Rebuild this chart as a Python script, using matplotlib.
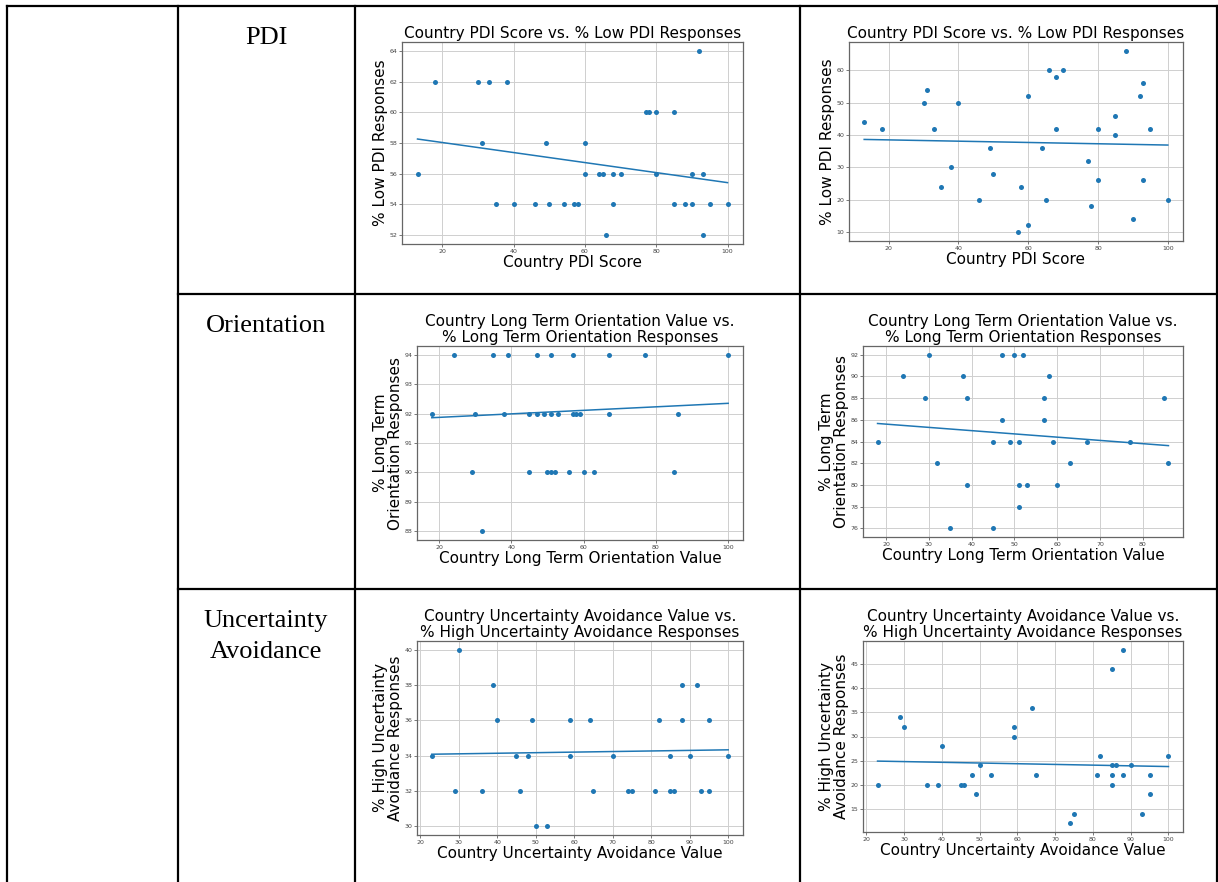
import numpy as np
import matplotlib
matplotlib.use("Agg")
import matplotlib.pyplot as plt
from matplotlib.lines import Line2D
from matplotlib.ticker import MultipleLocator

W, H = 1218, 882
BLUE = "#1f77b4"

# ---- data ----
pdi_x1 = [13, 18, 30, 33, 38, 31, 35, 40, 46, 49, 50, 54, 57, 58, 60, 60, 64, 65, 66, 68,
          68, 70, 77, 78, 80, 80, 85, 85, 88, 90, 90, 92, 93, 93, 95, 100]
pdi_y1 = [56, 62, 62, 62, 62, 58, 54, 54, 54, 58, 54, 54, 54, 54, 58, 56, 56, 56, 52, 56,
          54, 56, 60, 60, 60, 56, 60, 54, 54, 56, 54, 64, 56, 52, 54, 54]

pdi_x2 = [13, 18, 30, 31, 33, 35, 38, 40, 46, 49, 50, 57, 58, 60, 60, 64, 65, 66, 68, 68,
          70, 77, 78, 80, 80, 85, 85, 88, 90, 92, 93, 93, 95, 100]
pdi_y2 = [44, 42, 50, 54, 42, 24, 30, 50, 20, 36, 28, 10, 24, 52, 12, 36, 20, 60, 58, 42,
          60, 32, 18, 42, 26, 46, 40, 66, 14, 52, 56, 26, 42, 20]

lto_x1 = [24, 35, 39, 47, 51, 57, 67, 77, 100,
          18, 30, 38, 45, 47, 49, 51, 53, 57, 58, 59, 67, 86,
          29, 45, 50, 51, 52, 56, 60, 63, 85,
          32]
lto_y1 = [94] * 9 + [92] * 13 + [90] * 9 + [88]

lto_x2 = [18, 24, 29, 30, 32, 35, 38, 39, 39, 45, 45, 47, 47, 49, 50, 51, 51, 51, 52, 53,
          57, 57, 58, 59, 60, 63, 67, 77, 85, 86]
lto_y2 = [84, 90, 88, 92, 82, 76, 90, 88, 80, 84, 76, 92, 86, 84, 92, 84, 80, 78, 92, 80,
          88, 86, 90, 84, 80, 82, 84, 84, 88, 82]

uai_x1 = [23, 29, 30, 36, 39, 40, 45, 46, 48, 49, 50, 53, 59, 59, 64, 65, 70, 74, 75, 81,
          82, 85, 85, 86, 88, 88, 90, 92, 93, 95, 95, 100]
uai_y1 = [34, 32, 40, 32, 38, 36, 34, 32, 34, 36, 30, 30, 36, 34, 36, 32, 34, 32, 32, 32,
          36, 34, 32, 32, 38, 36, 34, 38, 32, 36, 32, 34]

uai_x2 = [23, 29, 30, 36, 39, 40, 45, 46, 48, 49, 50, 53, 59, 59, 64, 65, 74, 75, 81, 82,
          85, 85, 85, 85, 86, 88, 88, 90, 93, 95, 95, 100]
uai_y2 = [20, 34, 32, 20, 20, 28, 20, 20, 22, 18, 24, 22, 32, 30, 36, 22, 12, 14, 22, 26,
          44, 24, 22, 20, 24, 48, 22, 24, 14, 22, 18, 26]

# fitted trend lines as drawn in the reference: (x start, x end), (y start, y end)
fit_pdi1 = ([13, 100], [58.26, 55.41])
fit_pdi2 = ([13, 100], [38.64, 36.90])
fit_lto1 = ([18, 100], [91.86, 92.35])
fit_lto2 = ([18, 86], [85.66, 83.62])
fit_uai1 = ([23, 100], [34.08, 34.33])
fit_uai2 = ([23, 100], [24.90, 23.77])

row_names = [["PDI"], ["Orientation"], ["Uncertainty", "Avoidance"]]

t_pdi = "Country PDI Score vs. % Low PDI Responses"
t_lto = "Country Long Term Orientation Value vs.\n% Long Term Orientation Responses"
t_uai = "Country Uncertainty Avoidance Value vs.\n% High Uncertainty Avoidance Responses"

panels = [
    # (x, y, fit, title, xlabel, ylabel, xstep, ystep, box left/top/right/bottom px)
    (pdi_x1, pdi_y1, fit_pdi1, t_pdi, "Country PDI Score", "% Low PDI Responses", 20, 2,
     (402, 42, 743, 244)),
    (pdi_x2, pdi_y2, fit_pdi2, t_pdi, "Country PDI Score", "% Low PDI Responses", 20, 10,
     (849, 42, 1183, 241)),
    (lto_x1, lto_y1, fit_lto1, t_lto, "Country Long Term Orientation Value",
     "% Long Term\nOrientation Responses", 20, 1, (417, 346, 743, 540)),
    (lto_x2, lto_y2, fit_lto2, t_lto, "Country Long Term Orientation Value",
     "% Long Term\nOrientation Responses", 10, 2, (863, 346, 1183, 537)),
    (uai_x1, uai_y1, fit_uai1, t_uai, "Country Uncertainty Avoidance Value",
     "% High Uncertainty\nAvoidance Responses", 10, 2, (417, 641, 743, 835)),
    (uai_x2, uai_y2, fit_uai2, t_uai, "Country Uncertainty Avoidance Value",
     "% High Uncertainty\nAvoidance Responses", 10, 5, (863, 641, 1183, 832)),
]

fig = plt.figure(figsize=(W / 100, H / 100), dpi=100)

def fx(px): return px / W
def fy(py): return 1 - py / H

# ---- table lines ----
def hline(y, x0, x1):
    fig.add_artist(Line2D([fx(x0), fx(x1)], [fy(y), fy(y)], color="black", lw=1.6))
def vline(x, y0, y1):
    fig.add_artist(Line2D([fx(x), fx(x)], [fy(y0), fy(y1)], color="black", lw=1.6))

hline(6, 7, 1217)
hline(294, 178, 1217)
hline(589, 178, 1217)
for x in [7, 178, 355, 800, 1217]:
    vline(x, 6, 882)

# row labels (serif, like the document table)
row_base = [44, 332, 627]
for names, yb in zip(row_names, row_base):
    for i, nm in enumerate(names):
        fig.text(fx(266), fy(yb + 31 * i), nm, ha="center", va="baseline",
                 family="Liberation Serif", fontsize=19)

# ---- scatter panels ----
for x, y, fit, title, xl, yl, xs, ys, (l, t, r, b) in panels:
    ax = fig.add_axes([fx(l), fy(b), fx(r) - fx(l), fy(t) - fy(b)])
    ax.scatter(x, y, s=13, color=BLUE, lw=0, zorder=3)
    ax.plot(fit[0], fit[1], color=BLUE, lw=1.1, zorder=3)
    ax.xaxis.set_major_locator(MultipleLocator(xs))
    ax.yaxis.set_major_locator(MultipleLocator(ys))
    ax.grid(True, color="#cfcfcf", lw=0.7)
    ax.set_axisbelow(True)
    for sp in ax.spines.values():
        sp.set_color("#666666"); sp.set_linewidth(0.9)
    ax.tick_params(labelsize=4.5, length=2, width=0.5, pad=1.5, colors="#444444")
    ax.set_title(title, fontsize=11, pad=3, linespacing=1.1)
    ax.set_xlabel(xl, fontsize=11, labelpad=0.5)
    ax.set_ylabel(yl, fontsize=11, labelpad=1, linespacing=1.0)

fig.savefig("out.png", dpi=100)
